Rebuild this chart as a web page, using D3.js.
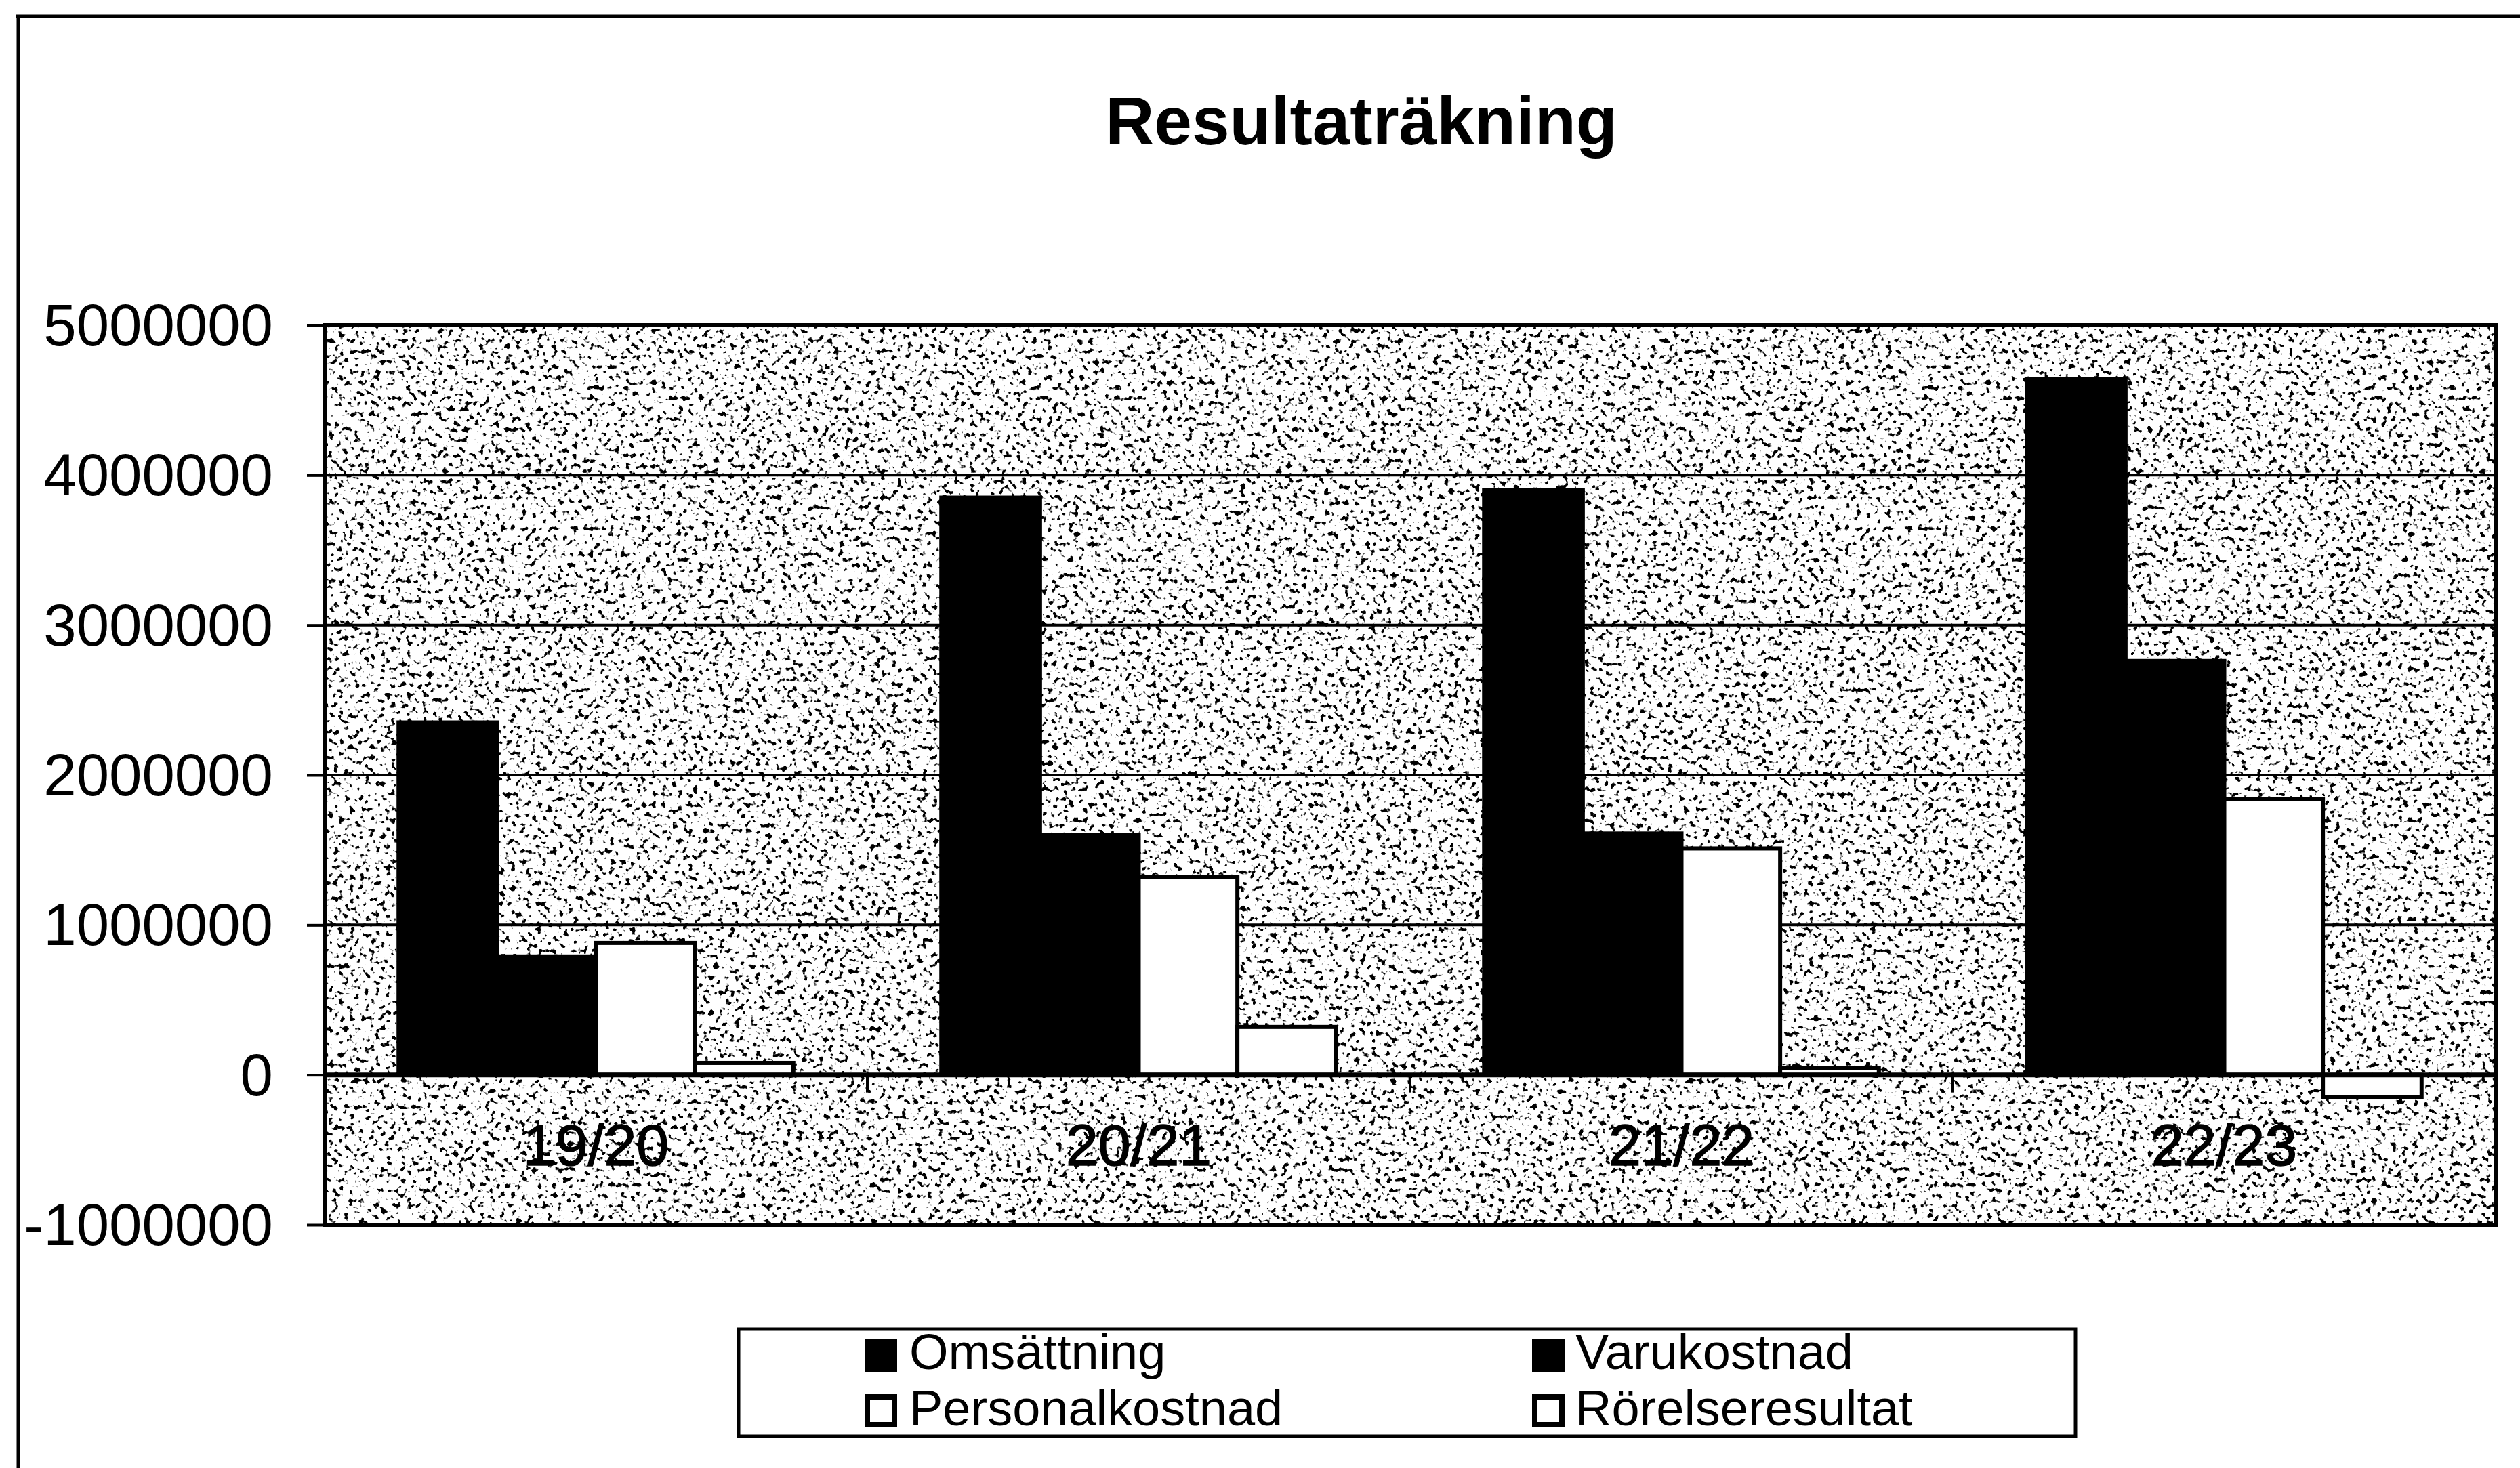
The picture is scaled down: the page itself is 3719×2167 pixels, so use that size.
<!DOCTYPE html>
<html>
<head>
<meta charset="utf-8">
<script src="https://cdn.jsdelivr.net/npm/d3@7"></script>
<style>
  html, body { margin: 0; padding: 0; background: #fff; }
  svg { display: block; }
  text { font-family: "Liberation Sans", Arial, sans-serif; fill: #000; }
</style>
</head>
<body>
<svg id="chart" width="3719" height="2167"></svg>
<script>
// ---- data ----
const categories = ["19/20", "20/21", "21/22", "22/23"];
const seriesNames = ["Omsättning", "Varukostnad", "Personalkostnad", "Rörelseresultat"];
const omsattning      = [2350000, 3850000, 3900000, 4640000];
const varukostnad     = [790000, 1600000, 1610000, 2760000];
const personalkostnad = [880000, 1320000, 1510000, 1840000];
const rorelseresultat = [80000, 320000, 45000, -150000];
const yTickValues = [-1000000, 0, 1000000, 2000000, 3000000, 4000000, 5000000];
const titleText = "Resultaträkning";

const seriesValues = [omsattning, varukostnad, personalkostnad, rorelseresultat];
const seriesFill = ["#000", "#000", "#fff", "#fff"];

// ---- layout ----
const W = 3719, H = 2167;
const plot = { left: 479, right: 3683, top: 480, bottom: 1808 };

const svg = d3.select("#chart");

// outer frame (only top and left edges visible in the scan)
svg.append("line").attr("x1", 24).attr("x2", W).attr("y1", 24).attr("y2", 24)
  .attr("stroke", "#000").attr("stroke-width", 5);
svg.append("line").attr("x1", 27).attr("x2", 27).attr("y1", 22).attr("y2", H)
  .attr("stroke", "#000").attr("stroke-width", 5);

// title
svg.append("text")
  .attr("x", 2009).attr("y", 213)
  .attr("text-anchor", "middle")
  .attr("font-size", 100).attr("font-weight", "bold")
  .text(titleText);

// scales
const x0 = d3.scaleBand().domain(categories).range([plot.left, plot.right]).padding(0);
const x1 = d3.scaleBand().domain(seriesNames).range([0, x0.bandwidth()])
  .paddingInner(0).paddingOuter(0.75);
const y = d3.scaleLinear().domain([-1000000, 5000000]).range([plot.bottom, plot.top]);

// speckled background texture
const defs = svg.append("defs");
const f = defs.append("filter").attr("id", "speck")
  .attr("filterUnits", "userSpaceOnUse")
  .attr("x", plot.left).attr("y", plot.top)
  .attr("width", plot.right - plot.left).attr("height", plot.bottom - plot.top);
f.append("feTurbulence").attr("type", "fractalNoise")
  .attr("baseFrequency", "0.13").attr("numOctaves", 2).attr("seed", 7).attr("result", "n");
f.append("feColorMatrix").attr("in", "n").attr("type", "matrix")
  .attr("values", "0 0 0 0 0  0 0 0 0 0  0 0 0 0 0  -12 0 0 0 5.0");

svg.append("rect")
  .attr("x", plot.left).attr("y", plot.top)
  .attr("width", plot.right - plot.left).attr("height", plot.bottom - plot.top)
  .attr("fill", "#fff");
svg.append("rect")
  .attr("x", plot.left).attr("y", plot.top)
  .attr("width", plot.right - plot.left).attr("height", plot.bottom - plot.top)
  .attr("fill", "#000").attr("filter", "url(#speck)");

// gridlines
svg.append("g").selectAll("line")
  .data(yTickValues.filter(v => v !== -1000000 && v !== 5000000))
  .join("line")
  .attr("x1", plot.left).attr("x2", plot.right)
  .attr("y1", d => y(d)).attr("y2", d => y(d))
  .attr("stroke", "#000").attr("stroke-width", 4);

// y axis
const yAxis = svg.append("g")
  .attr("transform", `translate(${plot.left},0)`)
  .call(d3.axisLeft(y).tickValues(yTickValues).tickFormat(d => String(d))
    .tickSize(26).tickPadding(50));
yAxis.select(".domain").remove();
yAxis.selectAll(".tick line").attr("stroke", "#000").attr("stroke-width", 4);
yAxis.selectAll(".tick text")
  .attr("font-size", 87).attr("font-family", "Liberation Sans, Arial, sans-serif")
  .attr("fill", "#000").attr("dy", "0.34em");

// bars
const groups = svg.append("g").selectAll("g")
  .data(categories)
  .join("g")
  .attr("transform", d => `translate(${x0(d)},0)`);

groups.selectAll("rect")
  .data((c, ci) => seriesNames.map((s, si) => ({ s, si, v: seriesValues[si][ci] })))
  .join("rect")
  .attr("x", d => x1(d.s))
  .attr("width", x1.bandwidth())
  .attr("y", d => y(Math.max(0, d.v)))
  .attr("height", d => Math.abs(y(d.v) - y(0)))
  .attr("fill", d => seriesFill[d.si])
  .attr("stroke", "#000").attr("stroke-width", 6);

// zero line (x axis)
svg.append("line")
  .attr("x1", plot.left).attr("x2", plot.right)
  .attr("y1", y(0)).attr("y2", y(0))
  .attr("stroke", "#000").attr("stroke-width", 7);

// category boundary ticks
const boundaries = categories.map(c => x0(c)).concat([x0(categories[categories.length - 1]) + x0.bandwidth()]);
svg.append("g").selectAll("line")
  .data(boundaries)
  .join("line")
  .attr("x1", d => d).attr("x2", d => d)
  .attr("y1", y(0)).attr("y2", y(0) + 26)
  .attr("stroke", "#000").attr("stroke-width", 4);

// category labels
const xAxis = svg.append("g")
  .attr("transform", `translate(0,${y(0)})`)
  .call(d3.axisBottom(x0).tickSize(0).tickPadding(0));
xAxis.select(".domain").remove();
xAxis.selectAll(".tick text")
  .attr("font-size", 86).attr("font-family", "Liberation Sans, Arial, sans-serif")
  .attr("fill", "#000").attr("y", 133).attr("dy", 0)
  .attr("stroke", "#000").attr("stroke-width", 1.5);

// plot border
svg.append("rect")
  .attr("x", plot.left).attr("y", plot.top)
  .attr("width", plot.right - plot.left).attr("height", plot.bottom - plot.top)
  .attr("fill", "none").attr("stroke", "#000").attr("stroke-width", 6);

// legend
const legend = svg.append("g");
legend.append("rect")
  .attr("x", 1090).attr("y", 1962).attr("width", 1973).attr("height", 158)
  .attr("fill", "#fff").attr("stroke", "#000").attr("stroke-width", 5);

const legendPos = [
  { mx: 1276, my: 1976, tx: 1342, ty: 2021 },
  { mx: 2261, my: 1976, tx: 2325, ty: 2021 },
  { mx: 1276, my: 2058, tx: 1342, ty: 2104 },
  { mx: 2261, my: 2058, tx: 2325, ty: 2104 }
];
const items = legend.selectAll("g.item")
  .data(seriesNames.map((s, i) => ({ s, i, p: legendPos[i] })))
  .join("g").attr("class", "item");
items.append("rect")
  .attr("x", d => d.p.mx + 4).attr("y", d => d.p.my + 4)
  .attr("width", 40).attr("height", 41)
  .attr("fill", d => seriesFill[d.i])
  .attr("stroke", "#000").attr("stroke-width", 8);
items.append("text")
  .attr("x", d => d.p.tx).attr("y", d => d.p.ty)
  .attr("font-size", 74)
  .attr("textLength", d => d.s.length * 0)
  .attr("lengthAdjust", null)
  .text(d => d.s);
items.selectAll("text").attr("textLength", null);
</script>
</body>
</html>
